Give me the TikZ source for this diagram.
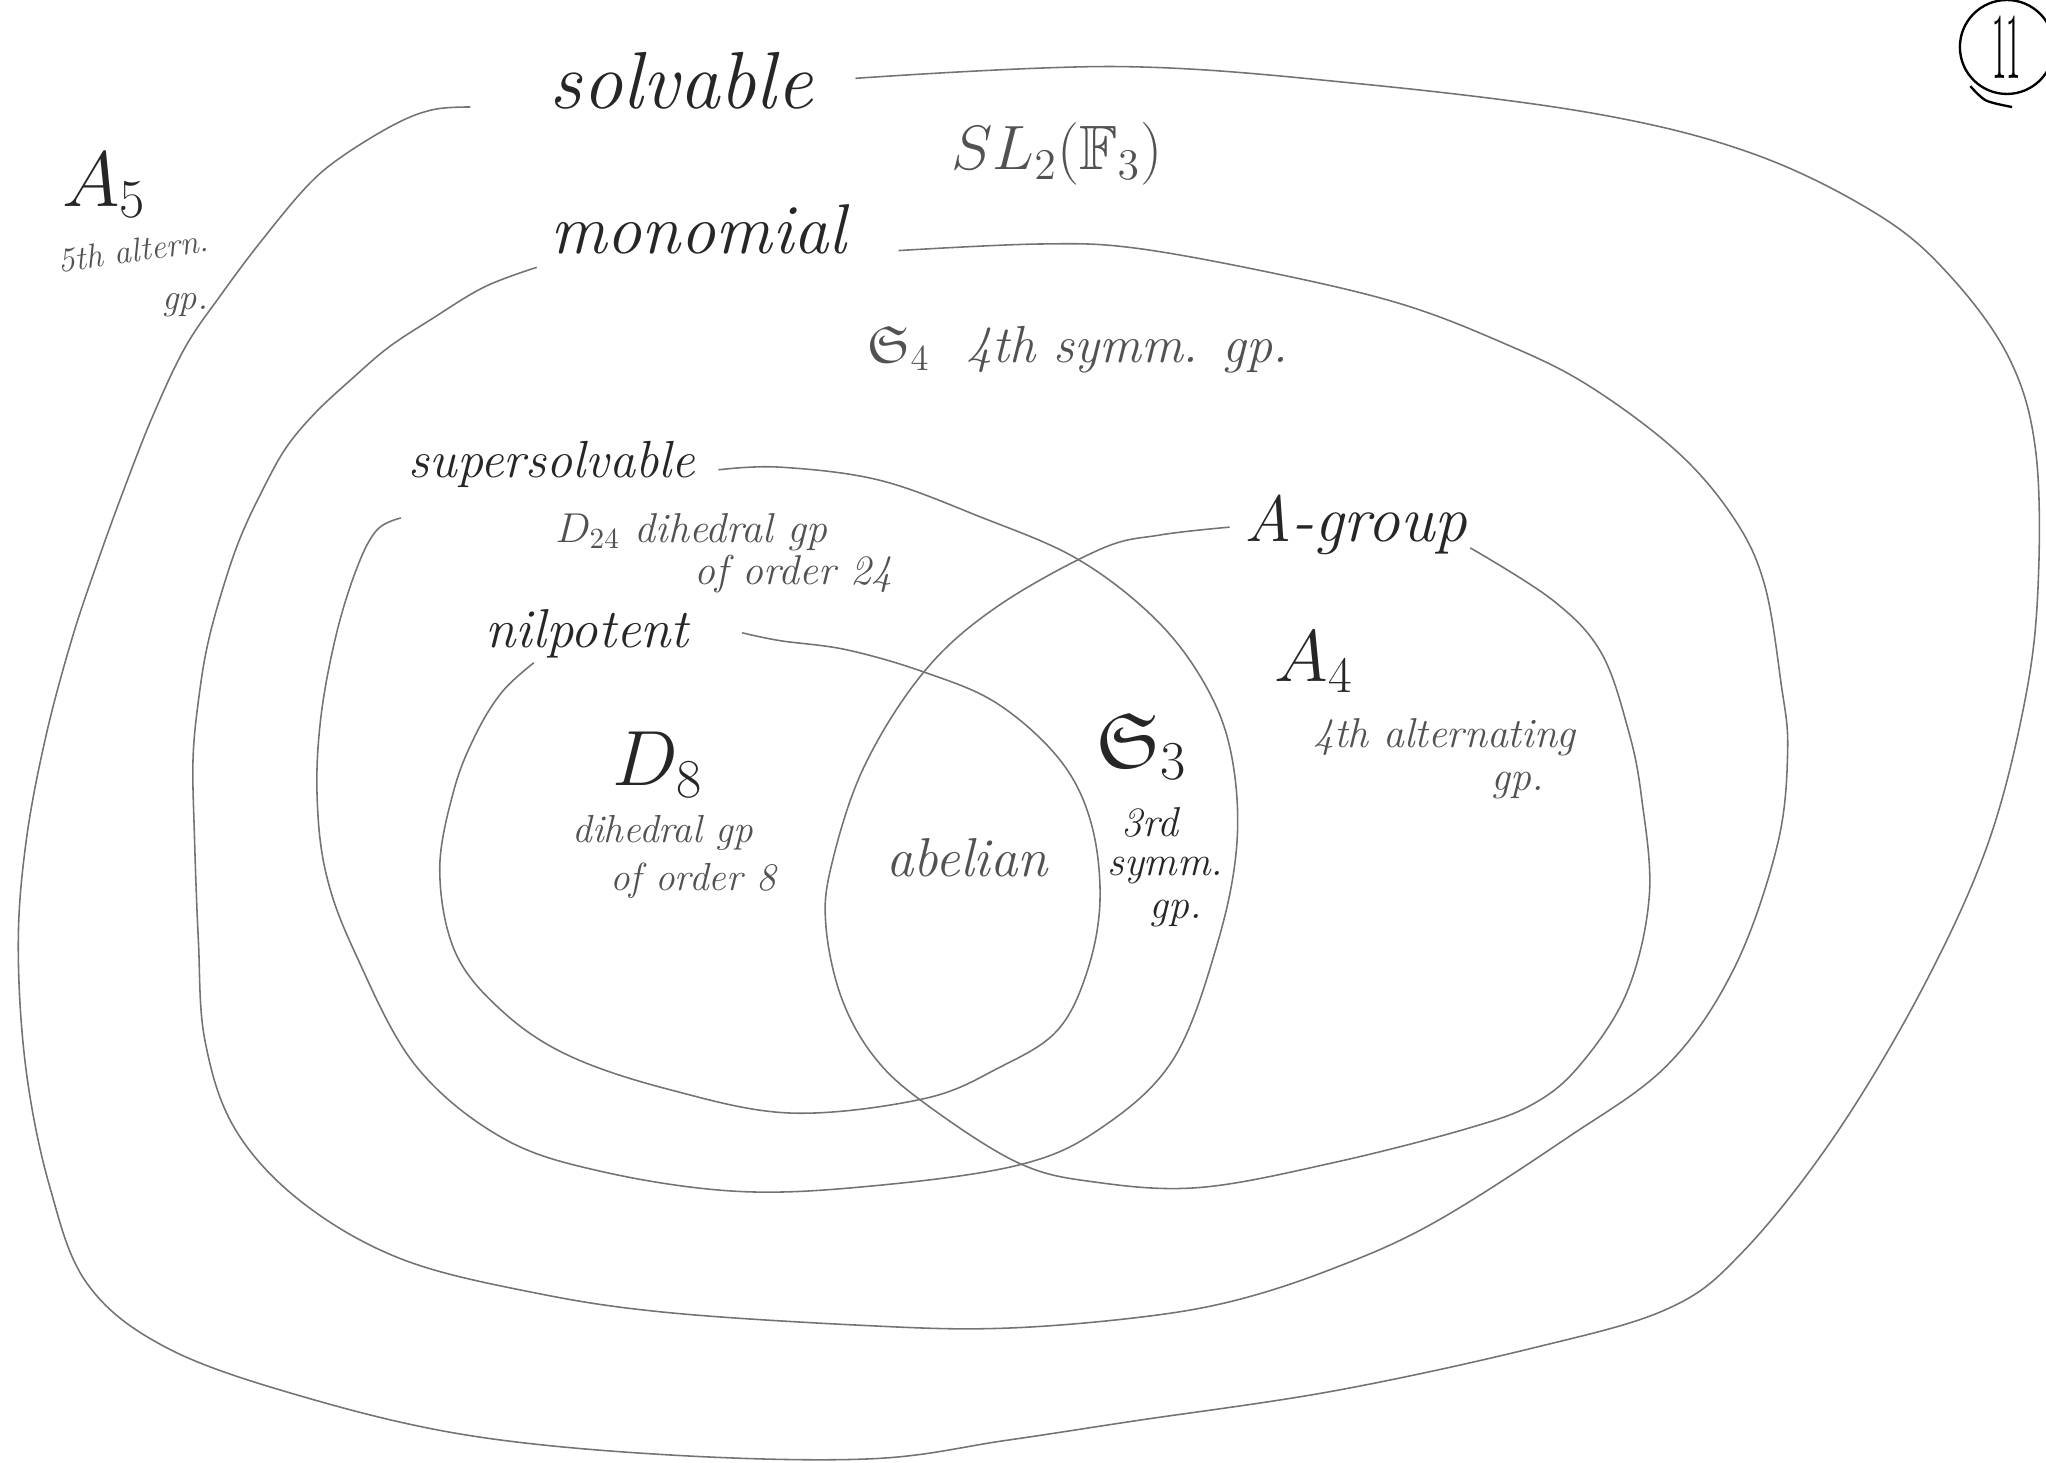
\RequirePackage{fix-cm}
\documentclass[tikz,border=0pt]{standalone}
\usepackage{amssymb}
\usepackage{fontspec}
\usepackage{graphicx}
\usetikzlibrary{shapes.geometric}
\newcommand\hfs[1]{\fontsize{#1}{#1}\selectfont}
\begin{document}
\begin{tikzpicture}[x=0.5pt,y=-0.5pt,
  curve/.style={draw=black!55, line width=0.6pt, line join=round, line cap=round},
  lbl/.style={inner sep=0pt, text=black!85, font=\itshape},
  note/.style={inner sep=0pt, text=black!68, font=\itshape}]
\useasboundingbox (0,0) rectangle (1568,1121);

% solvable
\draw[curve] plot[smooth, tension=0.6] coordinates {
 (360,82) (332,84) (303,95) (262,120) (235,143) (200,185) (170,225) (142,266)
 (117,319) (95,375) (75,430) (55,490) (35,565) (20,645) (14,725) (20,820)
 (38,909) (67,984) (128,1033) (231,1070) (359,1100) (513,1115) (667,1118)
 (770,1104) (869,1089) (1022,1066) (1175,1033) (1278,1003) (1335,960)
 (1405,872) (1472,760) (1523,648) (1552,536) (1562,447) (1560,345)
 (1540,275) (1495,212) (1440,165) (1344,118) (1222,87) (1040,64) (857,51) (656,60)};
% monomial
\draw[curve] plot[smooth, tension=0.6] coordinates {
 (411,205) (371,220) (330,245) (298,266) (270,290) (242,316) (220,342)
 (203,372) (185,410) (172,447) (160,490) (153,530) (148,580) (149,640)
 (152,720) (157,797) (180,865) (231,921) (308,965) (411,991) (513,1006)
 (667,1016) (766,1018) (869,1010) (945,997) (1022,972) (1099,937)
 (1201,872) (1278,816) (1329,742) (1362,648) (1370,575) (1365,524)
 (1352,447) (1328,396) (1284,345) (1215,294) (1150,262) (1074,233)
 (979,210) (869,190) (796,187) (689,192)};
% supersolvable
\draw[curve] plot[smooth, tension=0.6] coordinates {
 (307,397) (289,406) (274,434) (258,485) (246,549) (243,610) (250,670)
 (272,730) (318,816) (385,872) (462,898) (565,913) (667,909) (780,893)
 (843,865) (899,812) (933,723) (948,645) (943,575) (922,522) (884,473)
 (825,428) (751,396) (674,368) (598,358) (551,360)};
% nilpotent
\draw[curve] plot[smooth, tension=0.6] coordinates {
 (409,508) (385,530) (365,562) (348,605) (337,667) (349,730) (385,775)
 (436,809) (513,835) (606,853) (708,842) (766,818) (810,790) (833,745)
 (843,690) (836,630) (812,582) (764,539) (708,515) (649,498) (598,491) (569,485)};
% A-group
\draw[curve] plot[smooth, tension=0.6] coordinates {
 (942,404) (889,410) (843,421) (764,465) (708,515) (662,588) (637,664)
 (633,710) (645,765) (670,810) (708,845) (780,891) (840,906) (920,910)
 (1022,891) (1124,865) (1175,846) (1211,816) (1247,760) (1264,686)
 (1258,611) (1248,560) (1227,500) (1190,460) (1127,420)};

% set labels
\node[lbl, font=\itshape\hfs{31}] (solv) at (522,62) {solvable};
\node[lbl, font=\itshape\hfs{27}] (mono) at (535,176) {monomial};
\node[lbl, font=\itshape\hfs{20}] (super) at (423,356) {supersolvable};
\node[lbl, font=\itshape\hfs{21}] (nil) at (450,486) {nilpotent};
\node[lbl, font=\itshape\hfs{25}] (agrp) at (1039,402) {A-group};
\node[note, font=\itshape\hfs{21}] (abel) at (741,657) {abelian};

% groups
\node[lbl, font=\hfs{30}] (A5) at (80,142) {$A_5$};
\node[note, font=\itshape\hfs{13}, rotate=8] (A5a) at (102,192) {5th altern.};
\node[note, font=\itshape\hfs{14}] (A5b) at (142,234) {gp.};
\node[note, font=\hfs{24}] (SL) at (810,118) {$SL_2(\mathbb{F}_3)$};
\node[note, font=\itshape\hfs{20}] (S4) at (826,268) {$\mathfrak{S}_4$\ \ 4th symm. gp.};
\node[note, font=\itshape\hfs{16}] (D24) at (530,408) {$D_{24}$ dihedral gp};
\node[note, font=\itshape\hfs{16}] (D24b) at (608,440) {of order 24};
\node[lbl, font=\hfs{30}] (D8) at (504,586) {$D_8$};
\node[note, font=\itshape\hfs{15}] (D8a) at (508,638) {dihedral gp};
\node[note, font=\itshape\hfs{15}] (D8b) at (531,675) {of order 8};
\node[lbl, font=\hfs{30}] (S3) at (875,572) {$\mathfrak{S}_3$};
\node[lbl, font=\itshape\hfs{16}] (S3a) at (881,630) {3rd};
\node[lbl, font=\itshape\hfs{16}] (S3b) at (893,667) {symm.};
\node[lbl, font=\itshape\hfs{16}] (S3c) at (901,700) {gp.};
\node[lbl, font=\hfs{28}] (A4) at (1007,507) {$A_4$};
\node[note, font=\itshape\hfs{16}] (A4a) at (1107,565) {4th alternating};
\node[note, font=\itshape\hfs{16}] (A4b) at (1163,602) {gp.};

% page number
\node[draw=black, line width=0.9pt, ellipse, minimum width=36pt, minimum height=36pt, inner sep=0pt]
  (page) at (1538,36) {\resizebox{11pt}{24pt}{11}};
\draw[black, line width=0.9pt] plot[smooth] coordinates {(1510,66) (1522,77) (1542,82)};
\end{tikzpicture}
\end{document}
